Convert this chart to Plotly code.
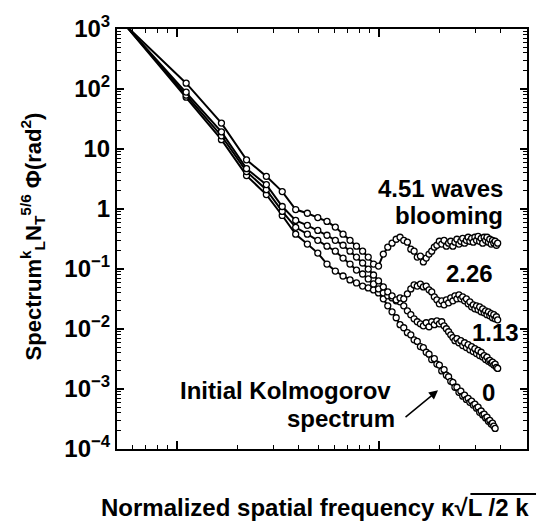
import plotly.graph_objects as go

# Normalized spatial frequency of each sampled harmonic
freq = [0.55, 1.11, 1.66, 2.21, 2.77, 3.32, 3.87, 4.42, 4.98, 5.53,
        6.08, 6.64, 7.19, 7.74, 8.30, 8.85, 9.40, 9.95, 10.51, 11.06,
        11.61, 12.17, 12.72, 13.27, 13.83, 14.38, 14.93, 15.48, 16.04, 16.59,
        17.14, 17.70, 18.25, 18.80, 19.36, 19.91, 20.46, 21.01, 21.57, 22.12,
        22.67, 23.23, 23.78, 24.33, 24.89, 25.44, 25.99, 26.54, 27.10, 27.65,
        28.20, 28.76, 29.31, 29.86, 30.42, 30.97, 31.52, 32.07, 32.63, 33.18,
        33.73, 34.29, 34.84, 35.39, 35.95, 36.50, 37.05, 37.60, 38.16, 38.71]

# Spectrum, 4.51 waves blooming
spec_451 = [1200, 125, 27, 6.6, 3.5, 1.95, 0.98, 0.85, 0.72, 0.62,
            0.50, 0.38, 0.30, 0.24, 0.198, 0.158, 0.121, 0.112, 0.177, 0.231,
            0.269, 0.313, 0.338, 0.30, 0.28, 0.214, 0.198, 0.158, 0.164, 0.131,
            0.152, 0.177, 0.198, 0.231, 0.249, 0.29, 0.26, 0.30, 0.24, 0.269,
            0.29, 0.24, 0.28, 0.313, 0.26, 0.29, 0.325, 0.269, 0.30, 0.338,
            0.29, 0.325, 0.28, 0.338, 0.30, 0.35, 0.29, 0.325, 0.269, 0.338,
            0.30, 0.338, 0.28, 0.313, 0.26, 0.30, 0.269, 0.29, 0.249, 0.269]

# Spectrum, 2.26 waves
spec_226 = [1200, 88.7, 19.3, 4.7, 2.55, 1.10, 0.645, 0.535, 0.44, 0.365,
            0.30, 0.249, 0.198, 0.158, 0.126, 0.0998, 0.0794, 0.0632, 0.0502, 0.0415,
            0.0357, 0.0306, 0.033, 0.0318, 0.0385, 0.0466, 0.0542, 0.052, 0.056, 0.0502,
            0.052, 0.045, 0.0415, 0.0344, 0.0306, 0.0263, 0.0295, 0.0253, 0.0306, 0.0273,
            0.033, 0.0295, 0.0357, 0.0318, 0.0371, 0.0318, 0.0344, 0.0295, 0.0318, 0.0263,
            0.0284, 0.0234, 0.0253, 0.0217, 0.0243, 0.0209, 0.0234, 0.0193, 0.0217, 0.0186,
            0.0201, 0.0173, 0.0193, 0.0166, 0.018, 0.0154, 0.0173, 0.0148, 0.016, 0.0142]

# Spectrum, 1.13 waves
spec_113 = [1200, 79, 16.6, 4.2, 2.1, 0.91, 0.495, 0.38, 0.30, 0.24,
            0.198, 0.152, 0.121, 0.096, 0.0825, 0.0682, 0.0563, 0.0466, 0.040, 0.0357,
            0.033, 0.0295, 0.0284, 0.0243, 0.0201, 0.0173, 0.0148, 0.0132, 0.0122, 0.0113,
            0.0127, 0.0109, 0.0132, 0.0118, 0.0137, 0.0122, 0.0132, 0.0113, 0.0101, 0.0090,
            0.0080, 0.0072, 0.0064, 0.0069, 0.0059, 0.0064, 0.0053, 0.0059, 0.0049, 0.0055,
            0.0045, 0.0051, 0.0042, 0.0047, 0.0039, 0.0044, 0.0036, 0.0041, 0.0034, 0.0036,
            0.0031, 0.0034, 0.0029, 0.0030, 0.0027, 0.0028, 0.0025, 0.0026, 0.0023, 0.0022]

# Initial Kolmogorov spectrum (0 waves)
spec_0 = [1200, 73, 14.3, 3.6, 1.74, 0.78, 0.38, 0.26, 0.184, 0.121,
          0.0925, 0.0765, 0.0657, 0.0585, 0.052, 0.0484, 0.0448, 0.040, 0.0318, 0.0243,
          0.0193, 0.0154, 0.0118, 0.0105, 0.0087, 0.0080, 0.0066, 0.0062, 0.0051, 0.0049,
          0.0041, 0.0038, 0.0031, 0.0032, 0.0026, 0.0025, 0.0020, 0.0021, 0.0017, 0.0016,
          0.00134, 0.00129, 0.00107, 0.00107, 0.00088, 0.00092, 0.00076, 0.00079, 0.00067, 0.00070,
          0.00060, 0.00063, 0.00054, 0.00056, 0.00048, 0.00050, 0.00041, 0.00043, 0.00037, 0.00038,
          0.00033, 0.00034, 0.00029, 0.00030, 0.00026, 0.00027, 0.00024, 0.00022]

y_tickvals = [1e3, 1e2, 1e1, 1, 1e-1, 1e-2, 1e-3, 1e-4]
y_ticktext = ["10<sup>3</sup>", "10<sup>2</sup>", "10", "1", "10<sup>\u22121</sup>",
              "10<sup>\u22122</sup>", "10<sup>\u22123</sup>", "10<sup>\u22124</sup>"]
x_major = [1, 10]
x_minor = [0.6, 0.7, 0.8, 0.9, 2, 3, 4, 5, 6, 7, 8, 9, 20, 30, 40]
y_minor = [m * 10 ** d for d in range(-4, 3) for m in range(2, 10)]

FONT = "Liberation Sans, Arial, Helvetica, sans-serif"

fig = go.Figure()
for ys in [spec_0, spec_113, spec_226, spec_451]:
    fig.add_trace(go.Scatter(
        x=freq[:len(ys)], y=ys, mode="lines+markers",
        line=dict(color="black", width=2),
        marker=dict(symbol="circle", size=6, color="white",
                    line=dict(color="black", width=1.3)),
        hoverinfo="skip", showlegend=False))

fig.update_layout(
    width=549, height=523,
    margin=dict(l=117, r=22, t=26, b=74),
    plot_bgcolor="white", paper_bgcolor="white",
    showlegend=False,
    font=dict(family=FONT, color="black"),
)

fig.update_xaxes(
    type="log", range=[-0.297, 1.733],
    showline=True, linecolor="black", linewidth=2, mirror="ticks",
    ticks="inside", ticklen=8, tickwidth=1.5, tickcolor="black",
    tickmode="array", tickvals=x_major, showticklabels=False,
    showgrid=False, zeroline=False,
    minor=dict(ticks="inside", ticklen=4, tickwidth=1, tickcolor="black",
               tickmode="array", tickvals=x_minor, showgrid=False),
)
fig.update_yaxes(
    type="log", range=[-4, 3],
    showline=True, linecolor="black", linewidth=2, mirror="ticks",
    ticks="inside", ticklen=7, tickwidth=1.5, tickcolor="black",
    tickmode="array", tickvals=y_tickvals, ticktext=y_ticktext,
    tickfont=dict(family=FONT, size=24, color="black", weight="bold"),
    showgrid=False, zeroline=False,
    minor=dict(ticks="inside", ticklen=4, tickwidth=1, tickcolor="black",
               tickmode="array", tickvals=y_minor, showgrid=False),
)

def txt(s, x, y, size=24, xanchor="center", angle=0):
    fig.add_annotation(text="<b>" + s + "</b>", x=x, y=y, xref="paper", yref="paper",
                       showarrow=False, xanchor=xanchor, yanchor="middle",
                       textangle=angle,
                       font=dict(family=FONT, size=size, color="black"))

txt("4.51 waves", 0.946, 0.620, xanchor="right")
txt("blooming", 0.946, 0.557, xanchor="right")
txt("2.26", 0.859, 0.417)
txt("1.13", 0.922, 0.277)
txt("0", 0.905, 0.135)
txt("Initial Kolmogorov", 0.412, 0.139)
txt("spectrum", 0.546, 0.073)

# Arrow pointing to the Kolmogorov curve
fig.add_annotation(x=0.783, y=0.1396, xref="paper", yref="paper", text="",
                   showarrow=True, ax=-34, ay=28, arrowhead=2, arrowsize=1.2,
                   arrowwidth=1.5, arrowcolor="black")

# Axis titles
txt("Spectrum<sup>k</sup><sub>L</sub>N<sub>T</sub><sup>5/6</sup> \u03a6(rad<sup>2</sup>)",
    -0.205, 0.506, size=22, angle=-90)
txt("Normalized spatial frequency \u03ba\u221aL /2 k", 0.482, -0.140, size=24)
fig.add_shape(type="line", xref="paper", yref="paper",
              x0=0.862, x1=1.022, y0=-0.107, y1=-0.107,
              line=dict(color="black", width=2))

fig.write_html("out.html")
